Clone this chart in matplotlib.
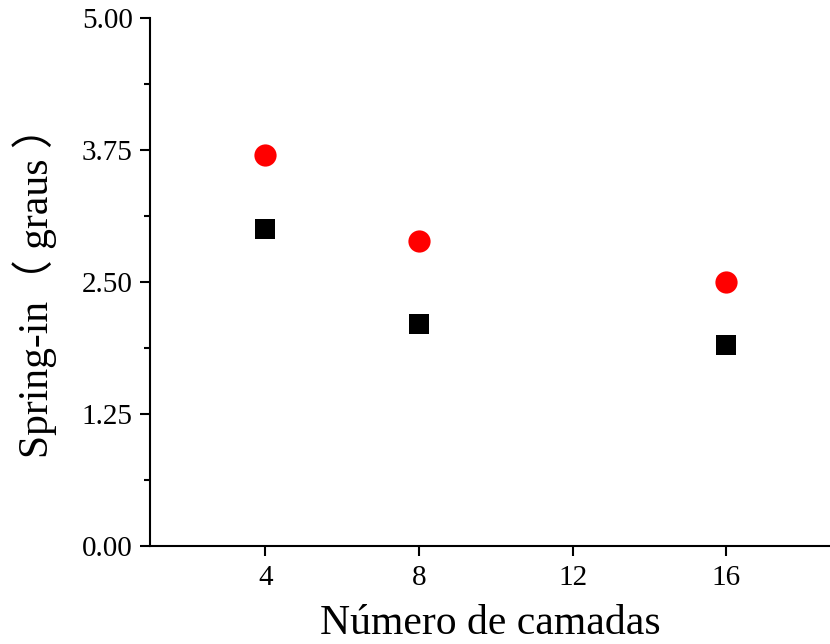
import numpy as np
import matplotlib
matplotlib.use("Agg")
import matplotlib.pyplot as plt
from matplotlib.ticker import MultipleLocator, FormatStrFormatter

plt.rcParams['font.family'] = ['Liberation Serif', 'DejaVu Serif']

camadas = [4, 8, 16]
spring_red = [3.70, 2.89, 2.50]
spring_black = [3.00, 2.10, 1.90]

fig = plt.figure(figsize=(8.3, 6.44), dpi=100)
ax = fig.add_axes([0.181, 0.152, 0.819, 0.820])

ax.plot(camadas, spring_red, 'o', color='#ff0000', markersize=16, markeredgewidth=0)
ax.plot(camadas, spring_black, 's', color='black', markersize=14, markeredgewidth=0)

ax.set_xlim(1.0, 18.7)
ax.set_ylim(0, 5)
ax.set_xticks([4, 8, 12, 16])
ax.yaxis.set_major_locator(MultipleLocator(1.25))
ax.yaxis.set_minor_locator(MultipleLocator(0.625))
ax.yaxis.set_major_formatter(FormatStrFormatter('%.2f'))

for s in ['top', 'right']:
    ax.spines[s].set_visible(False)
for s in ['left', 'bottom']:
    ax.spines[s].set_linewidth(1.5)

ax.tick_params(which='major', direction='out', length=7.5, width=1.5, labelsize=21)
ax.tick_params(which='minor', direction='out', length=4, width=1.5)
ax.tick_params(axis='x', pad=6)
ax.tick_params(axis='y', pad=5)

ax.set_xlabel('Número de camadas', fontsize=30, labelpad=10)
ax.set_ylabel('Spring-in（ graus ）', fontsize=30, labelpad=18,
              family=['Liberation Serif', 'Noto Sans CJK SC'])

fig.savefig('out.png', dpi=100)
